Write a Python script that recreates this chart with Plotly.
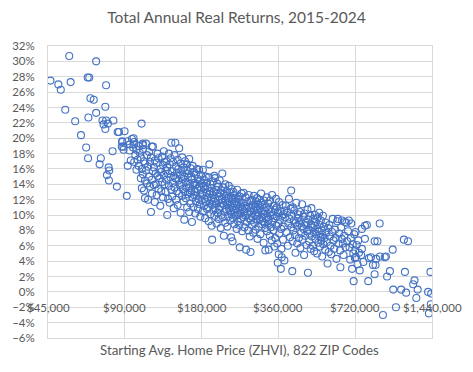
import math
import plotly.graph_objects as go

# Starting price in $ thousands, total annual real return in %
low_price_zips = [
    (46, 27.5), (49.4, 27.0), (50.5, 26.3), (52.6, 23.7), (54.5, 30.7), (55.2, 27.3), (57.5, 22.2),
    (60.6, 20.4), (63.5, 18.8), (64.4, 27.9), (65.3, 27.9), (64.6, 17.4), (64.8, 22.7), (66, 25.2),
    (68, 25.0), (69.5, 30.0), (69.5, 23.3), (71.7, 16.6), (72.5, 17.4), (73.6, 22.3), (74.3, 21.8),
    (75.5, 24.1), (75.5, 21.2), (76, 22.3), (76, 26.9), (76.6, 15.2), (77.3, 21.9), (77.8, 16.2),
    (78.2, 15.8), (78, 14.5), (80.6, 18.3), (81.2, 22.3), (83.8, 13.7), (84.4, 20.8), (85.4, 20.8),
    (87.6, 18.9), (87.8, 19.6), (88, 19.5), (88.8, 18.9), (89, 18.5), (89.8, 20.9), (91.6, 12.5),
    (92.4, 16.4), (94.2, 19.2), (97.4, 20.0), (98, 19.5), (104.7, 21.9), (105.9, 19.3), (106, 19.1),
    (114.8, 18.9),
]

core_low = [
    (92, 19.6), (94, 18.4), (95, 17.1), (96, 19.9), (97, 18.8), (98, 16.9), (98, 19.2), (99, 17.8),
    (100, 18.5), (100, 15.9), (101, 17.2), (102, 19.0), (102, 16.4), (103, 18.1), (104, 14.8),
    (104, 17.5), (105, 13.5), (105, 16.0), (106, 18.6), (106, 15.3), (107, 17.0), (107, 13.2),
    (108, 14.5), (108, 16.7), (108, 12.2), (109, 19.3), (109, 15.8), (110, 17.8), (110, 14.1),
    (111, 12.0), (111, 16.3), (112, 18.2), (112, 15.0), (113, 13.7), (113, 16.9), (114, 10.4),
    (114, 17.5), (115, 14.6), (115, 12.8), (116, 15.7), (116, 18.9), (117, 16.2), (117, 13.9),
    (118, 17.1), (118, 11.7), (119, 15.4), (119, 14.0), (120, 16.8), (120, 12.6), (121, 18.0),
    (121, 15.1), (122, 13.4), (122, 17.4), (123, 14.8), (124, 16.0), (124, 11.2), (125, 15.6),
    (125, 13.1), (126, 17.6), (126, 14.3), (127, 16.5), (127, 12.3), (128, 15.2), (128, 18.3),
    (129, 14.0), (129, 16.9), (130, 13.0), (130, 15.8),
]

core_mid = [
    (131, 17.0), (131, 14.6), (132, 10.0), (132, 16.2), (133, 12.1), (133, 15.4), (134, 18.0),
    (134, 13.8), (135, 16.6), (135, 11.6), (136, 14.9), (136, 17.4), (137, 19.4), (137, 13.3),
    (138, 15.7), (138, 12.4), (139, 16.9), (139, 14.2), (140, 10.9), (140, 15.1), (141, 17.8),
    (141, 13.6), (142, 19.4), (142, 14.8), (143, 12.0), (143, 16.3), (144, 15.5), (144, 13.1),
    (145, 17.2), (145, 11.3), (146, 14.5), (146, 16.0), (147, 18.7), (147, 12.8), (148, 15.2),
    (148, 13.9), (149, 16.7), (149, 10.3), (150, 14.1), (150, 15.8), (151, 12.5), (151, 17.5),
    (152, 14.7), (152, 13.4), (153, 16.2), (153, 11.8), (154, 15.0), (154, 9.4), (155, 13.0),
    (155, 17.0), (156, 14.3), (156, 12.2), (157, 15.9), (157, 13.6), (158, 11.0), (158, 16.6),
    (159, 14.9), (159, 12.7), (160, 13.5), (160, 15.4), (161, 10.4), (161, 17.3), (162, 14.0),
    (162, 12.9), (163, 16.1), (163, 11.5), (164, 13.2), (164, 15.0), (165, 14.6), (165, 9.1),
    (166, 12.3), (166, 16.4), (167, 13.9), (167, 11.0), (168, 15.6), (168, 12.6), (169, 14.2),
    (170, 13.0), (170, 10.2), (171, 15.3), (171, 11.8), (172, 14.0), (172, 12.5), (173, 16.0),
    (173, 13.4), (174, 10.8), (174, 14.7), (175, 12.1), (176, 13.7), (176, 15.9), (177, 11.4),
    (177, 14.4), (178, 12.8), (178, 9.8), (179, 13.3), (179, 15.2), (180, 11.9), (180, 14.1),
]

core_upper = [
    (181, 12.6), (182, 15.9), (182, 10.5), (183, 13.8), (184, 11.2), (184, 14.6), (185, 12.1),
    (186, 9.6), (186, 13.4), (187, 15.0), (187, 11.7), (188, 12.9), (189, 10.8), (189, 14.2),
    (190, 12.3), (190, 13.6), (191, 11.0), (192, 14.9), (192, 9.2), (193, 16.6), (193, 12.7),
    (194, 11.5), (194, 13.1), (195, 10.1), (195, 14.0), (196, 12.0), (197, 13.5), (197, 8.6),
    (198, 11.3), (198, 6.8), (199, 12.6), (199, 14.4), (200, 10.6), (201, 13.0), (201, 11.8),
    (202, 15.1), (202, 9.9), (203, 14.8), (203, 12.2), (204, 10.9), (205, 13.3), (205, 11.5),
    (206, 8.9), (207, 12.8), (207, 14.1), (208, 10.3), (209, 11.9), (209, 13.7), (210, 9.5),
    (211, 12.4), (211, 10.7), (212, 14.5), (213, 11.1), (213, 12.9), (214, 8.3), (215, 13.2),
    (215, 10.0), (216, 11.6), (217, 15.4), (217, 12.1), (218, 9.7), (219, 13.6), (220, 7.3),
    (220, 11.3), (221, 12.7), (222, 10.4), (223, 14.0), (223, 9.0), (224, 11.9), (225, 12.5),
    (225, 10.8), (226, 13.1), (227, 8.5), (227, 11.4), (228, 12.2), (229, 9.8), (230, 13.8),
    (230, 10.9), (231, 11.7), (232, 12.9), (233, 9.3), (233, 10.5), (234, 11.2), (235, 7.1),
    (235, 12.3), (236, 13.4), (236, 10.1), (237, 11.0), (238, 6.6), (238, 12.0), (239, 9.6),
    (240, 10.7), (240, 13.0), (241, 11.5), (242, 8.8), (242, 12.6), (243, 10.3), (244, 11.8),
    (245, 9.9), (245, 12.2), (246, 10.9), (247, 8.2), (248, 11.4), (248, 13.3), (249, 10.0),
    (250, 12.1), (250, 9.2), (251, 10.6), (252, 11.7), (253, 8.7), (254, 5.8), (254, 12.4),
    (255, 10.2), (256, 11.1), (257, 9.5), (258, 12.8), (259, 10.8), (260, 7.9),
]

core_high = [
    (261, 11.6), (262, 9.7), (263, 12.9), (264, 10.5), (265, 8.4), (266, 11.2), (267, 9.9),
    (268, 12.3), (269, 5.5), (270, 10.8), (271, 9.1), (272, 11.7), (273, 10.2), (274, 8.0),
    (275, 12.6), (276, 9.6), (277, 11.0), (278, 7.2), (279, 10.4), (280, 5.2), (280, 11.9),
    (281, 9.3), (282, 10.9), (283, 8.7), (284, 12.0), (285, 9.8), (286, 11.3), (287, 7.7),
    (288, 10.6), (289, 12.5), (290, 9.0), (291, 11.1), (292, 10.0), (293, 8.1), (294, 11.8),
    (295, 9.5), (296, 10.7), (297, 12.2), (298, 6.9), (299, 9.9), (300, 11.4), (301, 10.3),
    (302, 8.5), (303, 12.0), (304, 9.4), (305, 10.9), (306, 7.5), (307, 11.6), (308, 12.8),
    (309, 9.7), (310, 10.5), (311, 8.8), (312, 11.3), (313, 9.2), (314, 10.1), (315, 6.4),
    (316, 11.9), (317, 9.0), (318, 10.6), (320, 5.4), (320, 8.3), (321, 11.0), (322, 9.6),
    (324, 12.3), (325, 7.9), (326, 10.2), (327, 8.9), (328, 11.5), (330, 5.5), (330, 9.4),
    (332, 10.8), (333, 7.3), (334, 11.9), (335, 9.9), (336, 8.4), (338, 10.4), (339, 6.7),
    (340, 12.6), (341, 9.1), (342, 10.0), (344, 8.0), (345, 11.2), (347, 5.9), (348, 9.6),
    (349, 10.7), (350, 7.0), (352, 12.1), (353, 8.6), (354, 9.8), (355, 11.0), (356, 6.3),
    (358, 3.8), (358, 10.3), (360, 8.9), (361, 4.9), (362, 11.7), (363, 7.6), (365, 9.4),
    (366, 10.5), (368, 3.0), (369, 8.2), (370, 5.6), (371, 4.5), (372, 9.9), (374, 11.3),
    (375, 6.8), (377, 10.1), (378, 8.5), (380, 4.1), (380, 10.6),
]

upper_mid_zips = [
    (382, 9.7), (385, 11.2), (387, 7.8), (390, 10.3), (392, 6.0), (394, 8.9), (396, 12.1),
    (398, 9.5), (400, 7.1), (402, 10.8), (404, 13.2), (405, 8.4), (407, 9.9), (408, 2.7),
    (409, 6.6), (410, 11.0), (412, 8.0), (414, 9.3), (416, 10.6), (418, 7.4), (420, 5.1),
    (421, 9.0), (423, 11.6), (425, 8.6), (427, 6.3), (429, 10.1), (431, 9.6), (433, 7.0),
    (435, 8.9), (437, 10.4), (439, 5.7), (440, 9.2), (442, 7.7), (444, 8.5), (446, 11.4),
    (448, 6.8), (450, 9.8), (452, 8.2), (454, 4.8), (456, 10.2), (458, 7.3), (460, 9.0),
    (462, 8.7), (464, 6.1), (466, 7.9), (468, 10.7), (470, 2.5), (471, 9.4), (473, 8.1),
    (475, 6.6), (477, 7.6), (479, 9.9), (481, 5.6), (483, 8.8), (485, 10.9), (487, 7.2),
    (489, 8.4), (491, 6.0), (493, 9.5), (495, 7.8), (497, 5.3), (499, 8.6), (501, 10.0),
    (503, 6.9), (505, 9.1), (507, 7.5), (510, 5.0), (512, 8.2), (514, 9.7), (516, 6.4),
    (518, 7.9), (520, 10.3), (522, 8.7), (524, 5.9), (526, 7.1), (528, 9.3), (530, 6.7),
    (532, 8.0), (534, 4.6), (536, 7.4), (538, 9.9), (540, 6.2), (543, 8.5), (546, 7.0),
    (549, 5.5), (552, 9.0), (555, 7.7), (558, 6.5), (561, 3.7), (564, 8.3), (567, 5.2),
    (570, 8.7), (573, 7.2), (576, 6.0), (580, 4.9), (584, 7.8), (588, 9.5), (592, 6.7),
    (596, 5.6), (600, 8.1), (604, 7.0), (608, 4.3), (612, 9.2), (616, 9.5), (620, 6.3),
    (624, 7.6), (628, 5.4), (630, 3.2), (634, 8.4), (638, 6.9), (640, 9.3), (644, 6.3),
    (648, 4.8), (652, 7.3), (656, 9.1), (660, 5.8), (665, 9.0), (670, 6.6), (675, 7.9),
    (680, 9.3), (684, 5.8), (688, 4.2), (692, 7.0), (695, 8.9), (700, 3.0), (704, 6.2),
    (708, 5.0), (710, 1.4), (714, 7.5), (718, 4.4), (720, 5.4), (722, 7.8), (725, 4.5),
    (730, 6.1), (735, 3.6), (740, 6.7), (745, 5.1),
]

high_price_zips = [
    (750, 2.8), (760, 4.8), (765, 8.2), (765, 5.6), (775, 3.9), (786, 6.9), (786, 8.6),
    (800, 8.7), (810, 1.4), (815, 4.4), (830, 4.5), (845, 3.5), (858, 2.3), (858, 6.6),
    (865, 3.5), (870, 4.3), (880, 6.6), (898, 8.9), (900, 4.6), (925, -3.0), (940, 4.5),
    (950, 4.6), (960, 2.0), (985, 2.7), (1010, 5.5), (1015, 0.3), (1040, -2.0), (1090, 0.3),
    (1117, 6.8), (1128, 2.6), (1140, -0.1), (1160, 6.6), (1215, 1.0), (1230, 1.5),
    (1250, -0.8), (1265, 0.3), (1390, 0.0), (1420, 2.6), (1425, -1.6), (1400, -2.8),
    (1430, -0.2),
]

x_tick_values = [45000, 90000, 180000, 360000, 720000, 1440000]
x_tick_labels = ["$45,000", "$90,000", "$180,000", "$360,000", "$720,000", "$1,440,000"]

all_zips = (low_price_zips + core_low + core_mid + core_upper + core_high
            + upper_mid_zips + high_price_zips)
prices = [p * 1000 for p, r in all_zips]
returns = [r for p, r in all_zips]

GRAY = "#595959"
GRID = "#d9d9d9"
FONT = "Lato"

fig = go.Figure()
fig.add_trace(go.Scatter(
    x=prices, y=returns, mode="markers",
    marker=dict(symbol="circle-open", size=7, color="#4472C4",
                line=dict(width=1.1, color="#4472C4")),
    showlegend=False,
))

for v, lab in zip(x_tick_values, x_tick_labels):
    fig.add_annotation(x=math.log10(v), y=0, xref="x", yref="y", text=lab,
                       showarrow=False, yanchor="middle", yshift=-16,
                       font=dict(family=FONT, size=11.5, color=GRAY))

fig.add_annotation(x=0.499, y=-0.040, xref="paper", yref="paper",
                   text="Starting Avg. Home Price (ZHVI), 822 ZIP Codes",
                   showarrow=False, yanchor="middle", xanchor="center",
                   font=dict(family=FONT, size=13.3, color=GRAY))

fig.update_layout(
    width=473, height=372,
    margin=dict(l=38, r=41, t=46, b=34, pad=0),
    paper_bgcolor="white", plot_bgcolor="white",
    title=dict(text="Total Annual Real Returns, 2015-2024", x=0.5, xanchor="center",
               xref="container", y=1 - 18 / 372, yanchor="middle",
               font=dict(family=FONT, size=15.5, color=GRAY)),
    xaxis=dict(type="log", range=[math.log10(45000), math.log10(1440000)],
               tickvals=x_tick_values, showticklabels=False,
               showgrid=True, gridcolor=GRID, gridwidth=1,
               showline=True, linecolor=GRID, mirror=True, zeroline=False),
    yaxis=dict(range=[-6, 32], dtick=2, tick0=0, ticksuffix="%",
               showgrid=True, gridcolor=GRID, gridwidth=1,
               zeroline=True, zerolinecolor=GRID, zerolinewidth=1,
               showline=True, linecolor=GRID, mirror=True,
               ticklabelstandoff=10,
               tickfont=dict(family=FONT, size=11.5, color=GRAY)),
)

fig.write_html("out.html", config={"displayModeBar": False},
               post_script="document.body.style.margin='0';")
